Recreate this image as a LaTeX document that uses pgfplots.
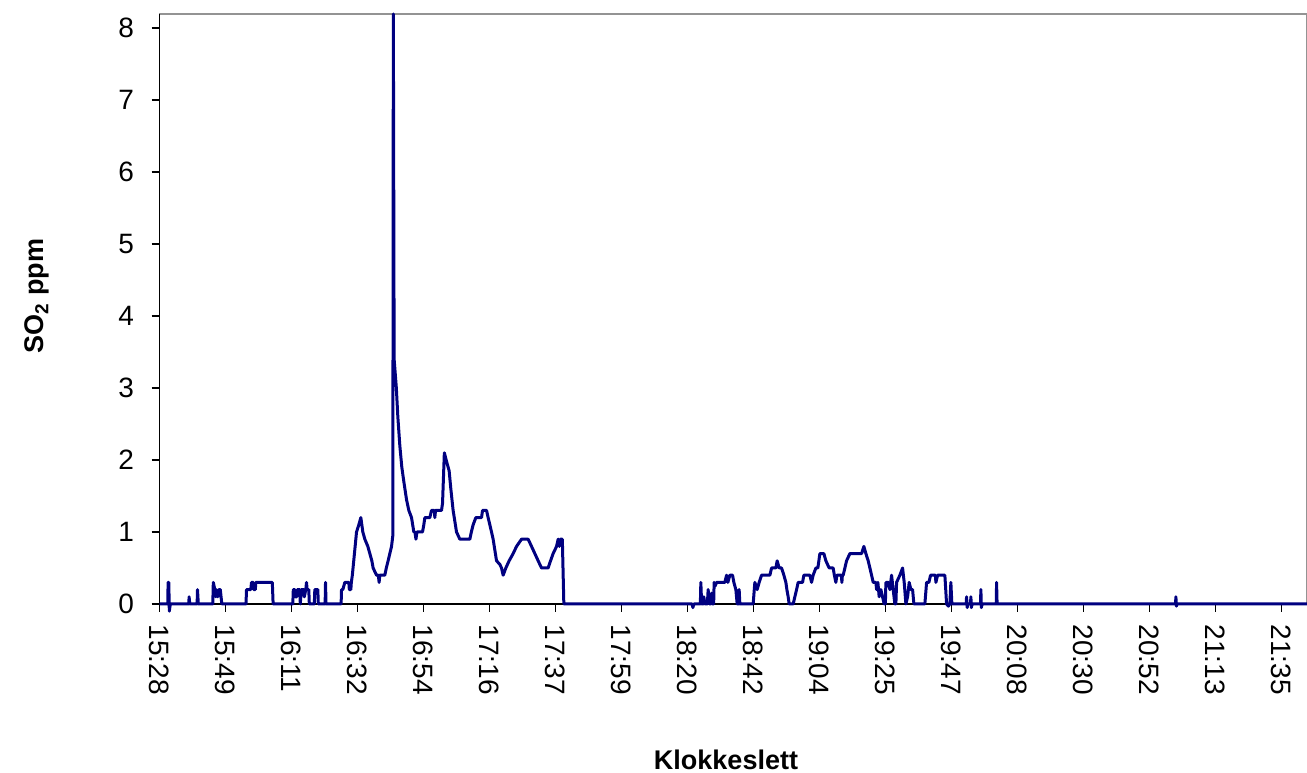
\documentclass[border=0pt]{standalone}
\usepackage{fontspec}
\setmainfont{Liberation Sans}
\usepackage{pgfplots}
\pgfplotsset{compat=1.18}
\definecolor{navyline}{RGB}{0,0,128}
\begin{document}
\begin{tikzpicture}[x=1pt,y=1pt]
\path[use as bounding box] (0,0) rectangle (1307,773);
\begin{axis}[
 at={(159.5pt,169pt)}, anchor=south west,
 scale only axis, width=1147.5pt, height=590pt,
 xmin=0, xmax=375.3, ymin=0, ymax=8.194,
 clip=false,
 axis line style={draw=gray!85, line width=1.6pt},
 tick pos=left, tick align=outside,
 major tick length=8pt,
 tick style={black, line width=1.2pt},
 ytick={0,1,2,3,4,5,6,7,8},
 xtick={0,21.588,43.176,64.764,86.352,107.94,129.528,151.116,172.704,194.292,215.88,237.468,259.056,280.644,302.232,323.82,345.408,366.996},
 xticklabels={15:28,15:49,16:11,16:32,16:54,17:16,17:37,17:59,18:20,18:42,19:04,19:25,19:47,20:08,20:30,20:52,21:13,21:35},
 xticklabel style={rotate=-90, anchor=west},
 xticklabel shift=9pt,
 yticklabel shift=14pt,
 ticklabel style={font=\fontsize{28}{32}\selectfont},
 /pgf/number format/assume math mode=true,
]
\draw[black, line width=1.6pt] (rel axis cs:0,1) -- (rel axis cs:0,0) -- (rel axis cs:1,0);
\addplot[navyline, line width=3pt, line join=round] table {
t v
0 0
2.71 0
2.81 0.3
3.04 0.3
3.21 -0.1
3.53 0
9.58 0
9.68 0.1
9.91 0
12.30 0
12.43 0.2
12.69 0
17.43 0
17.60 0.3
18.09 0.2
18.42 0.1
18.58 0.2
19.07 0.1
19.40 0.2
19.89 0.2
20.38 0
28.29 0
28.46 0.2
29.86 0.2
30.09 0.3
30.68 0.3
30.84 0.2
31.34 0.2
31.50 0.3
36.90 0.3
37.16 0
43.60 0
43.76 0.2
44.25 0.2
44.42 0.1
44.91 0.1
45.07 0.2
45.89 0.2
46.05 0
46.38 0.2
47.19 0.2
47.36 0.1
47.85 0.2
48.08 0.3
48.28 0.2
48.83 0.2
49.00 0
50.63 0
50.80 0.2
51.78 0.2
51.94 0
54.17 0
54.30 0.3
54.46 0
59.40 0
59.53 0.2
59.96 0.2
60.61 0.3
61.92 0.3
62.09 0.2
62.58 0.2
62.74 0.3
63.07 0.4
64.44 1.0
65.19 1.1
65.85 1.2
66.50 1.0
67.16 0.9
68.14 0.8
68.79 0.7
69.45 0.6
69.87 0.5
70.98 0.4
71.57 0.4
71.83 0.3
72.05 0.4
73.69 0.4
74.18 0.5
74.77 0.6
75.33 0.7
75.89 0.8
76.31 0.95
76.48 8.194
76.74 3.4
77.46 3.0
77.95 2.6
78.60 2.2
79.25 1.9
79.91 1.7
80.79 1.45
81.54 1.3
82.43 1.2
83.18 1.0
83.54 1.0
83.87 0.9
84.20 1.0
86.02 1.0
86.45 1.1
86.78 1.2
88.41 1.2
88.97 1.3
89.89 1.3
90.05 1.2
90.28 1.3
92.24 1.3
92.57 1.4
93.16 2.1
93.88 1.98
94.73 1.85
95.28 1.6
96.03 1.3
96.59 1.15
97.14 1.0
98.23 0.9
101.50 0.9
101.99 1.0
102.58 1.1
103.46 1.2
105.32 1.2
105.65 1.3
106.96 1.3
107.48 1.2
108.04 1.1
108.59 1.0
109.12 0.9
109.67 0.75
110.23 0.6
111.31 0.55
111.86 0.5
112.39 0.4
113.27 0.5
114.35 0.6
115.66 0.7
116.77 0.8
118.41 0.9
120.57 0.9
121.68 0.8
122.76 0.7
123.84 0.6
124.95 0.5
127.11 0.5
127.90 0.6
128.74 0.7
129.86 0.8
130.38 0.9
130.78 0.8
131.10 0.9
131.75 0.9
132.24 0
174.21 0
174.44 -0.05
174.77 0
176.89 0
177.05 0.3
177.31 0
177.87 0
178.03 0.1
178.36 0
179.18 0
179.44 0.2
179.83 0
180.32 0
180.55 0.15
180.81 0
181.24 0
181.40 0.3
181.73 0.25
182.19 0.3
184.90 0.3
185.46 0.4
185.88 0.3
186.54 0.4
187.42 0.4
187.85 0.3
188.50 0.2
188.93 0
189.48 0
189.58 0.2
189.81 0
194.16 0
194.71 0.3
195.47 0.2
196.12 0.3
196.91 0.4
198.31 0.4
199.63 0.4
200.18 0.5
201.59 0.5
202.01 0.6
202.67 0.5
203.45 0.5
204.21 0.4
204.86 0.3
205.19 0.2
205.61 0.1
205.94 0
207.25 0
207.80 0.1
208.36 0.2
208.88 0.3
210.32 0.3
210.74 0.4
212.71 0.4
213.26 0.3
213.78 0.4
214.67 0.5
215.32 0.5
215.65 0.6
215.98 0.7
217.29 0.7
217.94 0.6
219.02 0.5
220.33 0.5
220.72 0.4
221.21 0.3
221.54 0.4
221.97 0.4
223.01 0.4
223.18 0.3
223.34 0.4
223.60 0.4
224.16 0.5
224.71 0.6
225.79 0.7
229.62 0.7
230.37 0.8
231.03 0.7
231.78 0.6
232.34 0.5
232.89 0.4
233.42 0.3
234.30 0.3
234.53 0.2
234.95 0.3
235.37 0.1
235.93 0.2
236.48 0.1
237.01 0
237.40 0
237.57 0.3
238.38 0.3
238.87 0.2
239.43 0.4
239.95 0.2
240.51 0
240.84 0
241.07 0.3
242.15 0.4
243.03 0.5
243.56 0.3
244.11 0
244.67 0.1
245.19 0.3
245.75 0.2
246.30 0.2
246.73 0
250.32 0
250.88 0.3
251.63 0.3
252.19 0.4
253.76 0.4
253.92 0.3
254.48 0.4
256.86 0.4
257.42 0
258.01 -0.03
258.50 0
258.82 0.3
259.15 0
263.83 0
263.96 0.1
264.16 -0.05
264.39 0
265.24 0
265.37 0.1
265.53 -0.05
265.76 0
268.51 0
268.64 0.2
268.80 -0.05
269.03 0
273.68 0
273.77 0.3
273.94 0
332.29 0
332.42 0.1
332.58 -0.03
332.75 0
375.27 0
};
\end{axis}
\node[font=\bfseries\fontsize{27}{30}\selectfont] at (726,13) {Klokkeslett};
\node[font=\bfseries\fontsize{27}{30}\selectfont, rotate=90] at (37,477) {SO\textsubscript{2} ppm};
\end{tikzpicture}
\end{document}
